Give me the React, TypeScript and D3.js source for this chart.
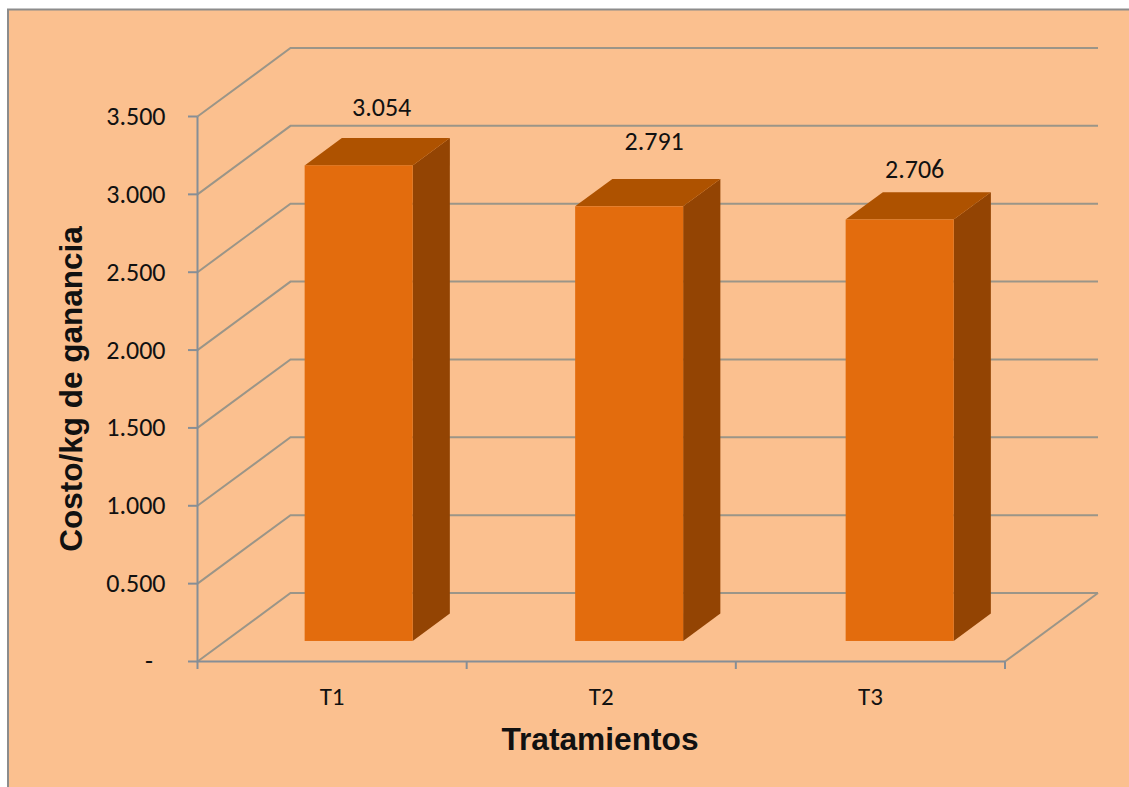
import React from "react";
import * as d3 from "d3";

const categories = ["T1", "T2", "T3"];
const costs = [3.054, 2.791, 2.706];
const costLabels = ["3.054", "2.791", "2.706"];
const yTicks = [0, 0.5, 1, 1.5, 2, 2.5, 3, 3.5];
const yTickLabels = ["-", "0.500", "1.000", "1.500", "2.000", "2.500", "3.000", "3.500"];

const W = 1129;
const H = 787;
// Oblique projection of the chart box: how far the back wall sits from the front plane.
const wallDx = 93;
const wallDy = -68.5;
// The bar occupies this slice of the depth, measured from the front plane.
const barNear = 0.3;
const barFar = 0.7;
const barW = 108;
// Hand-placed data labels, relative to the front top edge of each bar.
const labelDx = [23, 25, 15];
const labelDy = [-49, -56, -42];

const BG = "#FBC08F";
const FRONT = "#E36C0D";
const TOP = "#AE5200";
const SIDE = "#934403";
const GRID = "#9B9588";
const AXIS = "#868E96";
const SANS = "Carlito, Calibri, 'Open Sans', 'Noto Sans', sans-serif";
const BOLD = "'Liberation Sans', Arial, sans-serif";

const band = d3.scaleBand<string>().domain(categories).range([197.5, 1005]);
const barBand = d3.scaleBand<string>().domain(categories).range([195.5, 1007]);
const y = d3.scaleLinear().domain([0, 3.5]).range([661.5, 116.5]);

const poly = d3.line<[number, number]>().curve(d3.curveLinearClosed);
const path = d3.line<[number, number]>();

export default function App() {
  return (
    <svg width={W} height={H} viewBox={`0 0 ${W} ${H}`}
      style={{ position: "fixed", left: 0, top: 0, display: "block", background: "#fff" }}>
      <rect x={8} y={9.5} width={W} height={H} fill={BG} stroke="#8C8C8C" strokeWidth={2} />

      {yTicks.map((t) => (
        <path key={t} fill="none" stroke={GRID} strokeWidth={2}
          d={path([[197.5, y(t)], [197.5 + wallDx, y(t) + wallDy], [1005 + wallDx, y(t) + wallDy]]) ?? ""} />
      ))}
      <path fill="none" stroke={GRID} strokeWidth={2}
        d={path([[1005, y(0)], [1005 + wallDx, y(0) + wallDy]]) ?? ""} />

      <path fill="none" stroke={AXIS} strokeWidth={2} d={`M197.5,${y(3.5)}V${y(0)}H1005`} />
      {yTicks.map((t) => (
        <line key={t} x1={188} x2={197.5} y1={y(t)} y2={y(t)} stroke={AXIS} strokeWidth={2} />
      ))}
      {[0, 1, 2, 3].map((i) => {
        const tx = 197.5 + i * band.bandwidth();
        return <line key={i} x1={tx} x2={tx} y1={y(0)} y2={669} stroke={AXIS} strokeWidth={2} />;
      })}

      {yTicks.map((t, i) => (
        <text key={t} x={t === 0 ? 153 : 165.5} y={y(t) + 8.5} textAnchor="end" fontFamily={SANS} fontSize={26}
          fill="#111">{yTickLabels[i]}</text>
      ))}

      {categories.map((c, i) => {
        const centre = band(c)! + band.bandwidth() / 2;
        const barCentre = barBand(c)! + barBand.bandwidth() / 2;
        const xl = barCentre + barNear * wallDx - barW / 2;
        const xr = xl + barW;
        const base = y(0) + barNear * wallDy;
        const top = base - (y(0) - y(costs[i]));
        const ddx = (barFar - barNear) * wallDx;
        const ddy = (barFar - barNear) * wallDy;
        return (
          <g key={c}>
            <path fill={SIDE} d={poly([[xr, top], [xr + ddx, top + ddy], [xr + ddx, base + ddy], [xr, base]]) ?? ""} />
            <path fill={TOP} d={poly([[xl, top], [xl + ddx, top + ddy], [xr + ddx, top + ddy], [xr, top]]) ?? ""} />
            <rect x={xl} y={top} width={barW} height={base - top} fill={FRONT} />
            <text x={xl + barW / 2 + labelDx[i]} y={top + labelDy[i]} textAnchor="middle"
              fontFamily={SANS} fontSize={26} fill="#111">{costLabels[i]}</text>
            <text x={centre} y={705} textAnchor="middle" fontFamily={SANS} fontSize={25} fill="#111">{c}</text>
          </g>
        );
      })}

      <text transform="translate(82,389) rotate(-90)" textAnchor="middle" fontFamily={BOLD} fontWeight={700}
        fontSize={31.5} fill="#111">Costo/kg de ganancia</text>
      <text x={600} y={750} textAnchor="middle" fontFamily={BOLD} fontWeight={700} fontSize={31.7} fill="#111">Tratamientos</text>
    </svg>
  );
}
